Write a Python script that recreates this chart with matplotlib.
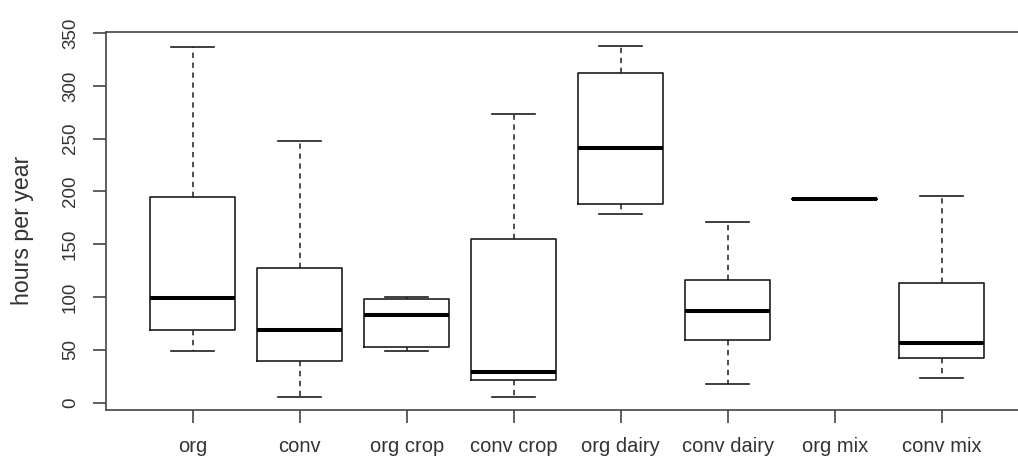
import matplotlib
matplotlib.use("Agg")
import matplotlib.pyplot as plt

plt.rcParams["font.family"] = ["Liberation Sans", "DejaVu Sans"]

groups = ["org", "conv", "org crop", "conv crop", "org dairy",
          "conv dairy", "org mix", "conv mix"]
whislo = [49, 5, 49, 5, 179, 18, 193, 23]
q1 = [69, 39, 53, 21, 188, 59, 193, 42]
med = [99, 69, 83, 29, 241, 87, 193, 56]
q3 = [195, 127, 98, 155, 312, 116, 193, 113]
whishi = [337, 248, 100, 273, 338, 171, 193, 196]
yticks = [0, 50, 100, 150, 200, 250, 300, 350]

stats = []
for i in range(len(groups)):
    stats.append({"label": groups[i], "whislo": whislo[i], "q1": q1[i],
                  "med": med[i], "q3": q3[i], "whishi": whishi[i],
                  "fliers": []})

fig = plt.figure(figsize=(10.18, 4.57), dpi=100)
# right edge of the R box lies outside the picture, as in the reference
ax = fig.add_axes([106 / 1018, 1 - 410.3 / 457, 922.3 / 1018, 378 / 457])

line_col = "#1e1e1e"
ax.bxp(stats, positions=range(1, 9), widths=0.8, showfliers=False,
       boxprops=dict(color=line_col, linewidth=1.2),
       whiskerprops=dict(color=line_col, linewidth=1.1, linestyle=(0, (3.5, 3))),
       capprops=dict(color=line_col, linewidth=1.2),
       medianprops=dict(color="black", linewidth=2.9, solid_capstyle="butt"))

ax.set_xlim(0.19, 8.81)
ax.set_ylim(-7.3, 350.7)
ax.set_yticks(yticks)
ax.set_yticklabels([str(v) for v in yticks], rotation=90, va="center")
ax.set_xticks(range(1, 9))
ax.set_xticklabels(groups)

for s in ax.spines.values():
    s.set_color("#444444")
    s.set_linewidth(1.2)

ax.tick_params(axis="y", length=9.5, width=1.2, color="#444444", pad=10,
               labelsize=13.5, labelcolor="#333333")
ax.tick_params(axis="x", length=9.5, width=1.2, color="#444444", pad=10,
               labelsize=14.5, labelcolor="#333333")

fig.text(23 / 1018, 1 - 230 / 457, "hours per year", rotation=90,
         ha="center", va="center", fontsize=16.7, color="#333333")

fig.savefig("out.png", dpi=100)
